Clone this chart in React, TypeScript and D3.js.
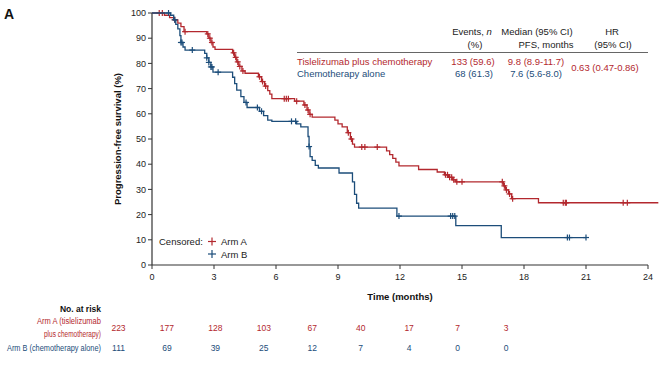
import React from "react";
import * as d3 from "d3";

// Kaplan-Meier steps (time in months, PFS %)
const armATimes = [0, 0.6, 0.85, 1.05, 1.25, 1.4, 1.55, 2.65, 2.75, 2.85, 2.95, 3.05, 3.9, 4.0, 4.1, 4.2, 4.35, 4.5, 5.15, 5.3, 5.45, 5.6, 5.7, 5.8, 6.9, 7.35, 7.5, 7.6, 7.75, 8.85, 9.0, 9.2, 9.45, 9.6, 9.7, 9.8, 11.35, 11.5, 11.65, 11.8, 11.95, 12.9, 13.8, 14.15, 14.35, 14.55, 14.7, 17.0, 17.1, 17.25, 17.4, 18.7, 24.5];
const armASurv = [100, 99.1, 98.2, 97.3, 96.0, 94.6, 92.6, 91.7, 90.0, 88.3, 86.5, 85.6, 84.2, 82.4, 80.6, 78.8, 77.0, 76.1, 74.7, 72.8, 71.0, 69.2, 67.8, 66.0, 65.0, 63.5, 61.5, 59.8, 58.7, 57.5, 56.0, 54.8, 52.5, 50.0, 48.0, 46.8, 45.3, 43.8, 42.3, 40.8, 39.3, 37.9, 36.9, 35.8, 34.8, 33.8, 33.0, 31.4, 29.8, 28.2, 26.3, 24.7, 24.7];
const armACensored = [0.35, 0.5, 1.1, 1.6, 2.7, 2.8, 2.9, 3.95, 4.05, 4.15, 4.25, 4.4, 5.2, 5.35, 5.5, 6.4, 6.5, 6.6, 7.0, 7.4, 7.55, 7.65, 9.5, 9.65, 10.15, 10.3, 10.9, 14.2, 14.3, 14.4, 14.5, 14.6, 14.75, 15.0, 16.95, 17.05, 17.15, 17.3, 17.45, 19.9, 20.0, 20.05, 22.8, 23.0];

const armBTimes = [0, 0.9, 1.05, 1.15, 1.25, 1.35, 1.4, 1.5, 1.6, 2.55, 2.65, 2.75, 2.85, 2.95, 3.9, 4.0, 4.1, 4.3, 4.45, 4.6, 5.2, 5.4, 5.6, 5.8, 7.0, 7.2, 7.55, 7.6, 7.65, 7.75, 7.9, 8.05, 9.05, 9.7, 9.8, 9.9, 10.0, 11.85, 14.7, 16.9, 21.0];
const armBSurv = [100, 99.1, 97.3, 95.5, 93.7, 91.0, 88.3, 86.5, 85.3, 84.0, 82.2, 80.4, 78.6, 76.5, 74.5, 72.0, 69.4, 66.8, 64.5, 62.5, 61.0, 59.3, 57.5, 57.0, 56.0, 54.8, 51.0, 47.0, 43.0, 41.5, 39.5, 38.5, 36.5, 33.0, 28.0, 24.5, 22.6, 19.4, 15.6, 10.9, 10.9];
const armBCensored = [0.8, 1.1, 1.4, 1.45, 1.95, 2.65, 2.75, 2.85, 2.9, 3.2, 4.55, 5.1, 5.3, 6.75, 6.95, 7.6, 11.95, 14.45, 14.55, 14.65, 20.1, 20.2, 21.0];

const xTicks = [0, 3, 6, 9, 12, 15, 18, 21, 24];
const yTicks = [0, 10, 20, 30, 40, 50, 60, 70, 80, 90, 100];
const atRiskA = [223, 177, 128, 103, 67, 40, 17, 7, 3];
const atRiskB = [111, 69, 39, 25, 12, 7, 4, 0, 0];

const RED = "#b3282e";
const BLUE = "#1c4d7a";
const AXIS = "#333";
const FONT = "'Liberation Sans', Arial, sans-serif";

const survAt = (times: number[], surv: number[], t: number) => {
  let v = surv[0];
  for (let i = 0; i < times.length; i++) if (times[i] <= t) v = surv[i];
  return v;
};

export default function App() {
  const width = 669, height = 368;
  const x = d3.scaleLinear().domain([0, 24]).range([152, 648]);
  const y = d3.scaleLinear().domain([0, 100]).range([265, 13]);
  const riskX = d3.scaleLinear().domain([0, 24]).range([118.5, 506]);

  const line = d3.line<[number, number]>()
    .x(d => x(d[0]))
    .y(d => y(d[1]))
    .curve(d3.curveStepAfter);

  const arms = [
    { times: armATimes, surv: armASurv, cens: armACensored, color: RED },
    { times: armBTimes, surv: armBSurv, cens: armBCensored, color: BLUE },
  ];

  const cross = (cx: number, cy: number, color: string, key: string, s = 3) => (
    <g key={key} stroke={color} strokeWidth={1.2}>
      <line x1={cx} x2={cx} y1={cy - s} y2={cy + s} />
      <line x1={cx - s} x2={cx + s} y1={cy} y2={cy} />
    </g>
  );

  return (
    <svg width={width} height={height} style={{ position: "absolute", left: 0, top: 0, background: "#fff" }} fontFamily={FONT}>
      <text x={4} y={19} fontSize={14} fontWeight="bold" fill="#111">A</text>

      {/* y axis */}
      <line x1={x(0)} x2={x(0)} y1={y(100)} y2={y(0)} stroke={AXIS} strokeWidth={1.2} />
      {yTicks.map(t => (
        <g key={"y" + t}>
          <line x1={x(0) - 4} x2={x(0)} y1={y(t)} y2={y(t)} stroke={AXIS} strokeWidth={1} />
          <text x={x(0) - 6} y={y(t) + 3.2} fontSize={9} textAnchor="end" fill="#222">{t}</text>
        </g>
      ))}
      <text transform={`translate(121,${y(50)}) rotate(-90)`} textAnchor="middle" fontSize={9.5} fontWeight="bold" fill="#111">
        Progression-free survival (%)
      </text>

      {/* x axis */}
      <line x1={x(0)} x2={x(24)} y1={y(0)} y2={y(0)} stroke={AXIS} strokeWidth={1.2} />
      {xTicks.map(t => (
        <g key={"x" + t}>
          <line x1={x(t)} x2={x(t)} y1={y(0)} y2={y(0) + 4} stroke={AXIS} strokeWidth={1} />
          <text x={x(t)} y={y(0) + 15} fontSize={9} textAnchor="middle" fill="#222">{t}</text>
        </g>
      ))}
      <text x={x(12)} y={300} fontSize={9.5} fontWeight="bold" textAnchor="middle" fill="#111">Time (months)</text>

      {/* curves */}
      {arms.map((a, i) => (
        <g key={"arm" + i}>
          <path d={line(a.times.map((t, j) => [t, a.surv[j]] as [number, number])) || ""} fill="none" stroke={a.color} strokeWidth={1.3} />
          {a.cens.map((t, j) => cross(x(t), y(survAt(a.times, a.surv, t)), a.color, "c" + i + "-" + j, 3))}
        </g>
      ))}

      {/* summary table */}
      <g fontSize={9.5} textAnchor="middle" fill="#222">
        <text x={472} y={35}>Events, <tspan fontStyle="italic">n</tspan></text>
        <text x={475} y={48}>(%)</text>
        <text x={537} y={35}>Median (95% CI)</text>
        <text x={546} y={48}>PFS, months</text>
        <text x={612} y={35}>HR</text>
        <text x={613} y={48}>(95% CI)</text>
      </g>
      <line x1={297} x2={648} y1={52.5} y2={52.5} stroke="#555" strokeWidth={0.9} />
      <g fontSize={9.5} fill={RED}>
        <text x={297} y={65}>Tislelizumab plus chemotherapy</text>
        <text x={473} y={65} textAnchor="middle">133 (59.6)</text>
        <text x={536} y={65} textAnchor="middle">9.8 (8.9-11.7)</text>
        <text x={605} y={71} textAnchor="middle">0.63 (0.47-0.86)</text>
      </g>
      <g fontSize={9.5} fill={BLUE}>
        <text x={297} y={77}>Chemotherapy alone</text>
        <text x={474} y={77} textAnchor="middle">68 (61.3)</text>
        <text x={536} y={77} textAnchor="middle">7.6 (5.6-8.0)</text>
      </g>

      {/* censor legend */}
      <text x={159} y={245} fontSize={9.5} fill="#222">Censored:</text>
      {cross(212, 241.5, RED, "legA", 4)}
      <text x={221} y={245} fontSize={9.5} fill="#222">Arm A</text>
      {cross(212, 254, BLUE, "legB", 4)}
      <text x={221} y={257.5} fontSize={9.5} fill="#222">Arm B</text>

      {/* number at risk */}
      <text x={101} y={312} fontSize={8.5} fontWeight="bold" textAnchor="end" fill="#111">No. at risk</text>
      <g fontSize={8.5} textAnchor="end" fill={RED}>
        <text x={101} y={324} textLength={64} lengthAdjust="spacingAndGlyphs">Arm A (tislelizumab</text>
        <text x={101} y={337} textLength={57} lengthAdjust="spacingAndGlyphs">plus chemotherapy)</text>
      </g>
      <text x={101} y={351} fontSize={8.5} textAnchor="end" fill={BLUE} textLength={94} lengthAdjust="spacingAndGlyphs">Arm B (chemotherapy alone)</text>
      {xTicks.map((t, i) => (
        <g key={"r" + t} fontSize={8.5} textAnchor="middle">
          <text x={riskX(t)} y={331} fill={RED}>{atRiskA[i]}</text>
          <text x={riskX(t)} y={351} fill={BLUE}>{atRiskB[i]}</text>
        </g>
      ))}
    </svg>
  );
}
